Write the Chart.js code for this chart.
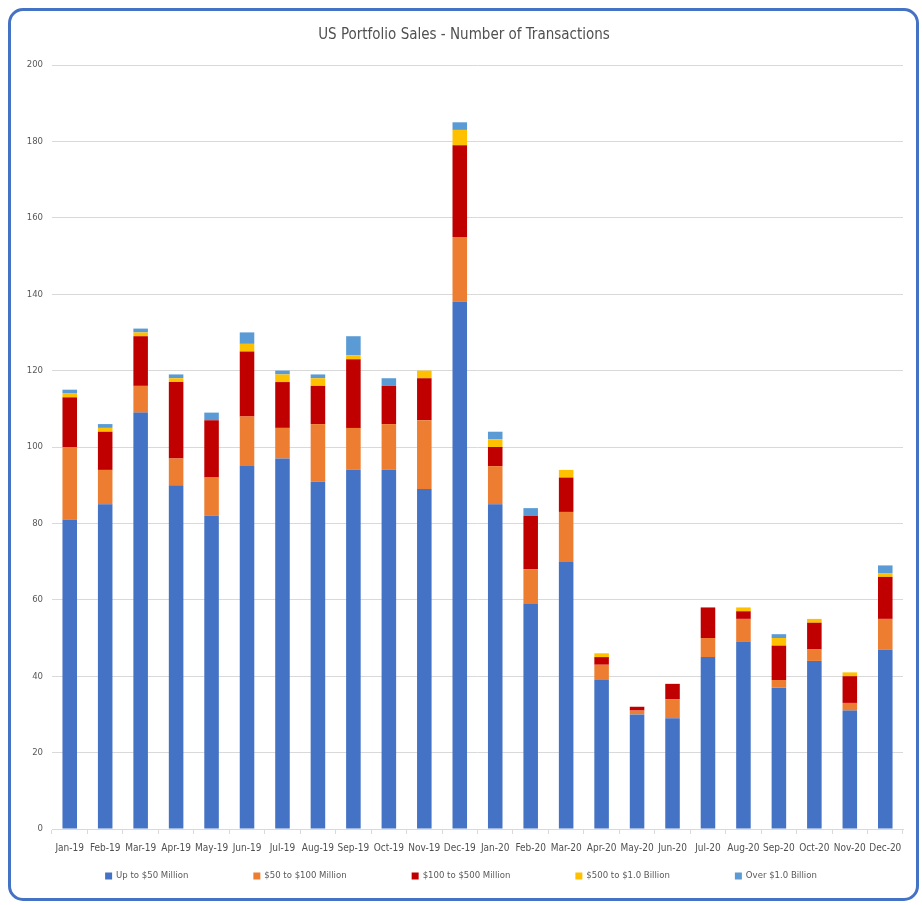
<!DOCTYPE html>
<html>
<head>
<meta charset="utf-8">
<title>US Portfolio Sales - Number of Transactions</title>
<script src="https://cdn.jsdelivr.net/npm/chart.js@4/dist/chart.umd.min.js"></script>
<style>
  html, body { margin: 0; padding: 0; background: #ffffff; }
  #wrap { position: relative; width: 922px; height: 905px; }
  #chart { position: absolute; left: 0; top: 0; }
  #frame {
    position: absolute; left: 8px; top: 8px; width: 911px; height: 893px;
    box-sizing: border-box; border: 3px solid #4472C4; border-radius: 15px;
    pointer-events: none;
  }
</style>
</head>
<body>
<div id="wrap">
  <canvas id="chart" width="922" height="905"></canvas>
  <div id="frame"></div>
</div>
<script>
// Monthly transaction counts by deal size
const months = ['Jan-19','Feb-19','Mar-19','Apr-19','May-19','Jun-19','Jul-19','Aug-19','Sep-19','Oct-19','Nov-19','Dec-19',
                'Jan-20','Feb-20','Mar-20','Apr-20','May-20','Jun-20','Jul-20','Aug-20','Sep-20','Oct-20','Nov-20','Dec-20'];
const upTo50M    = [81, 85, 109, 90, 82, 95, 97, 91, 94, 94, 89, 138, 85, 59, 70, 39, 30, 29, 45, 49, 37, 44, 31, 47];
const from50to100M  = [19, 9, 7, 7, 10, 13, 8, 15, 11, 12, 18, 17, 10, 9, 13, 4, 1, 5, 5, 6, 2, 3, 2, 8];
const from100to500M = [13, 10, 13, 20, 15, 17, 12, 10, 18, 10, 11, 24, 5, 14, 9, 2, 1, 4, 8, 2, 9, 7, 7, 11];
const from500Mto1B  = [1, 1, 1, 1, 0, 2, 2, 2, 1, 0, 2, 4, 2, 0, 2, 1, 0, 0, 0, 1, 2, 1, 1, 1];
const over1B        = [1, 1, 1, 1, 2, 3, 1, 1, 5, 2, 0, 2, 2, 2, 0, 0, 0, 0, 0, 0, 1, 0, 0, 2];
const yTicks = [0, 20, 40, 60, 80, 100, 120, 140, 160, 180, 200];

const FONT = "'Liberation Sans Narrow', 'DejaVu Sans Condensed', 'Liberation Sans', sans-serif";
const TEXT = '#595959';
const GRID = '#d9d9d9';

// Spread-out legend row drawn under the axis labels
const wideLegend = {
  id: 'wideLegend',
  afterDraw(chart, args, opts) {
    const ctx = chart.ctx;
    const sets = chart.data.datasets;
    ctx.save();
    ctx.font = opts.fontSize + 'px ' + FONT;
    ctx.textBaseline = 'middle';
    const widths = sets.map(ds => opts.box + opts.boxGap + ctx.measureText(ds.label).width);
    const total = widths.reduce((a, b) => a + b, 0) + opts.gap * (sets.length - 1);
    let x = (chart.width - total) / 2;
    const y = opts.y;
    sets.forEach((ds, i) => {
      ctx.fillStyle = ds.backgroundColor;
      ctx.fillRect(x, y - opts.box / 2, opts.box, opts.box);
      ctx.fillStyle = TEXT;
      ctx.fillText(ds.label, x + opts.box + opts.boxGap, y);
      x += widths[i] + opts.gap;
    });
    ctx.restore();
  }
};

Chart.defaults.font.family = FONT;
Chart.defaults.color = TEXT;

new Chart(document.getElementById('chart'), {
  type: 'bar',
  data: {
    labels: months,
    datasets: [
      { label: 'Up to $50 Million',    data: upTo50M,       backgroundColor: '#4472C4' },
      { label: '$50 to $100 Million',  data: from50to100M,  backgroundColor: '#ED7D31' },
      { label: '$100 to $500 Million', data: from100to500M, backgroundColor: '#C00000' },
      { label: '$500 to $1.0 Billion', data: from500Mto1B,  backgroundColor: '#FFC000' },
      { label: 'Over $1.0 Billion',    data: over1B,        backgroundColor: '#5B9BD5' }
    ]
  },
  options: {
    responsive: false,
    animation: false,
    devicePixelRatio: 1,
    layout: { padding: { left: 25, right: 19, top: 0, bottom: 0 } },
    datasets: { bar: { barPercentage: 0.41, categoryPercentage: 1.0, borderWidth: 0 } },
    plugins: {
      legend: { display: false },
      tooltip: { enabled: false },
      title: {
        display: true,
        text: 'US Portfolio Sales - Number of Transactions',
        color: '#505050',
        font: { size: 15, weight: 'normal', family: FONT },
        padding: { top: 26, bottom: 21 }
      },
      wideLegend: { y: 876, box: 7, boxGap: 4, gap: 65, fontSize: 9.5 }
    },
    scales: {
      x: {
        stacked: true,
        afterFit: s => { s.height = 76; },
        grid: { display: true, drawOnChartArea: false, drawTicks: true, tickLength: 5, color: GRID, offset: true },
        border: { display: true, color: GRID },
        ticks: { color: '#505050', font: { size: 10 }, padding: 8, maxRotation: 0, autoSkip: false }
      },
      y: {
        stacked: true,
        min: 0,
        max: 200,
        afterFit: s => { s.width = 27; },
        afterBuildTicks: s => { s.ticks = yTicks.map(v => ({ value: v })); },
        grid: { color: GRID, lineWidth: 1, drawTicks: false },
        border: { display: false },
        ticks: { color: TEXT, font: { size: 9.5 }, padding: 9 }
      }
    }
  },
  plugins: [wideLegend]
});
</script>
</body>
</html>
